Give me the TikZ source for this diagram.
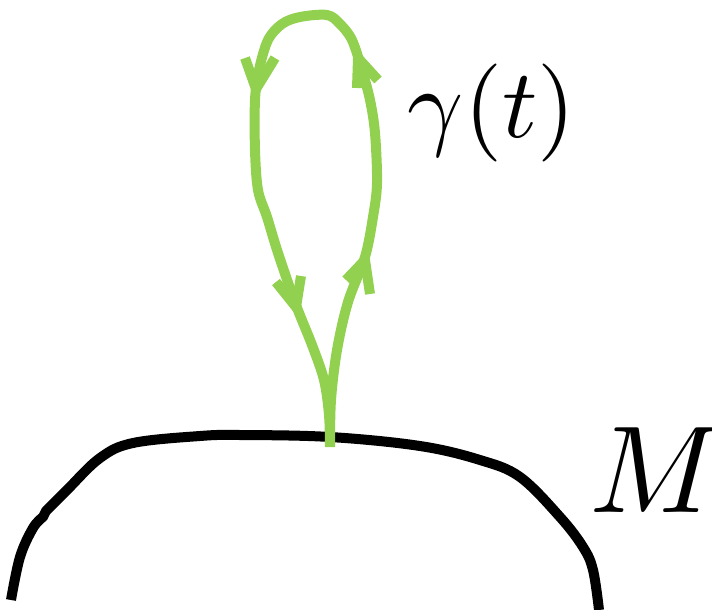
\documentclass[tikz,border=0pt]{standalone}
\definecolor{loopgreen}{HTML}{92D050}
\tikzset{
  boundary/.style={line width=10pt, black, line cap=butt, line join=round},
  loopline/.style={line width=10pt, loopgreen},
  arrowhead/.style={line width=10pt, loopgreen, line join=miter},
  bigmath/.style={inner sep=0pt, anchor=base west}
}
\begin{document}
\begin{tikzpicture}[x=1pt,y=-1pt]
\useasboundingbox (0,0) rectangle (712,610);
% manifold boundary
\draw[boundary] plot[smooth, tension=0.6] coordinates {(11,600) (20,557) (33,528) (43,517)}
  -- plot[smooth, tension=0.6] coordinates {(46,511) (67,490) (100,458) (133,443) (200,436) (240,435) (330,437) (420,446) (480,460) (520,477) (560,517) (583,547) (593,570) (599,610)};
% loop gamma
\draw[loopline] plot[smooth, tension=0.55] coordinates {(330,447) (331,400) (337,350) (348,302) (365,257) (373,217) (377,183) (375,133) (370,100) (362,70) (352,40) (340,24) (327,15) (300,17) (282,24) (268,40) (259,70) (255,100) (255,150) (258,190) (267,217) (278,253) (296,305) (312,345) (324,380) (329,415) (330,447)};
% arrowheads
\coordinate (tA) at (256,89);
\coordinate (tB) at (358,58);
\coordinate (tC) at (296,307);
\coordinate (tD) at (365,260);
\draw[arrowhead] (245,58) -- (tA) -- (275,58);
\draw[arrowhead] (357,88) -- (tB) -- (378,80);
\draw[arrowhead] (276,282) -- (tC) -- (301,276);
\draw[arrowhead] (346,280) -- (tD) -- (370,294);
% labels
\node[bigmath, scale=9.8] (gamma) at (406,137) {$\gamma(t)$};
\node[bigmath, scale=12.4] (M) at (587,512) {$M$};
\end{tikzpicture}
\end{document}
